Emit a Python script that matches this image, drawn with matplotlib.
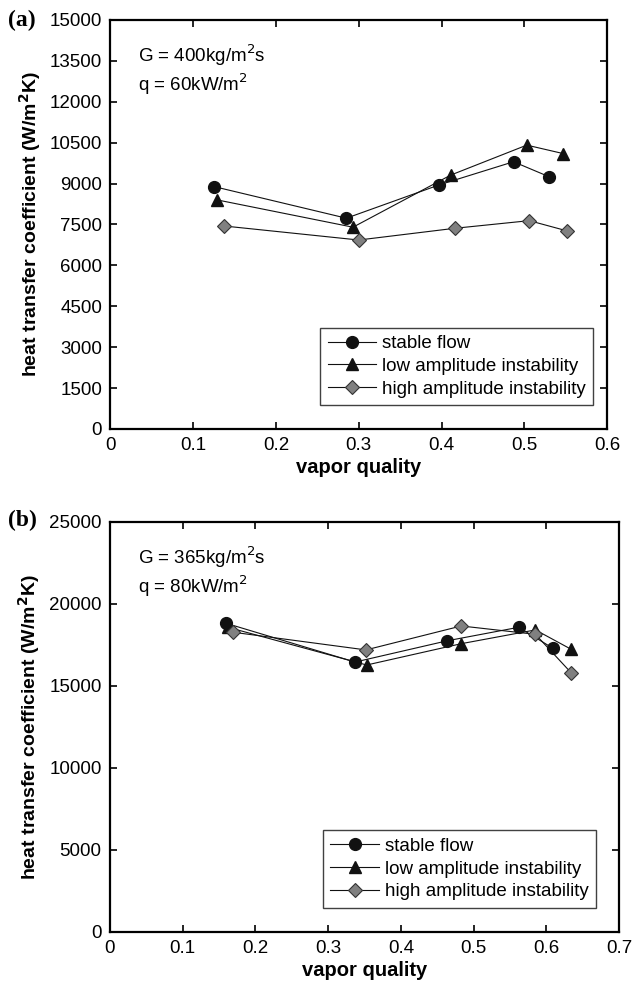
import matplotlib
matplotlib.use('Agg')
import matplotlib.pyplot as plt

plt.rcParams['font.family'] = ['Liberation Sans', 'DejaVu Sans']

# panel (a): G = 400 kg/m2s, q = 60 kW/m2
a_stable_x = [0.125, 0.285, 0.397, 0.487, 0.530]
a_stable_y = [8890, 7730, 8950, 9800, 9250]
a_low_x = [0.129, 0.293, 0.411, 0.503, 0.547]
a_low_y = [8400, 7400, 9310, 10410, 10100]
a_high_x = [0.137, 0.300, 0.416, 0.506, 0.551]
a_high_y = [7445, 6930, 7360, 7640, 7270]

# panel (b): G = 365 kg/m2s, q = 80 kW/m2
b_stable_x = [0.160, 0.337, 0.464, 0.562, 0.609]
b_stable_y = [18800, 16440, 17740, 18560, 17280]
b_low_x = [0.163, 0.353, 0.483, 0.585, 0.634]
b_low_y = [18550, 16260, 17560, 18400, 17220]
b_high_x = [0.169, 0.352, 0.483, 0.585, 0.634]
b_high_y = [18260, 17180, 18640, 18130, 15790]

a_yticks = [0, 1500, 3000, 4500, 6000, 7500, 9000, 10500, 12000, 13500, 15000]
b_yticks = [0, 5000, 10000, 15000, 20000, 25000]
a_xticks = [0, 0.1, 0.2, 0.3, 0.4, 0.5, 0.6]
b_xticks = [0, 0.1, 0.2, 0.3, 0.4, 0.5, 0.6, 0.7]

labels = ['stable flow', 'low amplitude instability', 'high amplitude instability']


def draw_panel(ax, series, xlim, xticks, ylim, yticks, note, legend_pos):
    styles = [dict(marker='o', mfc='#111111', mec='#111111', ms=8.5),
              dict(marker='^', mfc='#111111', mec='#111111', ms=9),
              dict(marker='D', mfc='#808080', mec='#333333', ms=7, mew=0.8)]
    for (xs, ys), st, lab in zip(series, styles, labels):
        ax.plot(xs, ys, color='#111111', lw=0.8, label=lab, **st)
    ax.set_xlim(*xlim)
    ax.set_ylim(*ylim)
    ax.set_xticks(xticks)
    ax.set_xticklabels([('%g' % t) for t in xticks])
    ax.set_yticks(yticks)
    ax.tick_params(direction='in', top=True, right=True, length=5, width=1.2,
                   labelsize=13.5, pad=6)
    for sp in ax.spines.values():
        sp.set_linewidth(1.6)
    ax.set_xlabel('vapor quality', fontsize=14.5, fontweight='bold', labelpad=3)
    ax.set_ylabel('heat transfer coefficient (W/m$^\\mathbf{2}$K)', fontsize=14,
                  fontweight='bold', labelpad=5)
    ax.text(0.055, 0.945, note, transform=ax.transAxes, fontsize=13.5, va='top',
            linespacing=1.2)
    leg = ax.legend(loc='lower left', bbox_to_anchor=legend_pos, fontsize=13.5,
                    frameon=True, fancybox=False, edgecolor='#111111',
                    borderpad=0.4, labelspacing=0.3, handlelength=2.6,
                    handletextpad=0.3, borderaxespad=0)
    leg.get_frame().set_linewidth(1.0)


fig = plt.figure(figsize=(6.35, 9.88), dpi=100)
ax1 = fig.add_axes([0.174, 0.5658, 0.782, 0.414])
ax2 = fig.add_axes([0.173, 0.057, 0.802, 0.415])

draw_panel(ax1, [(a_stable_x, a_stable_y), (a_low_x, a_low_y), (a_high_x, a_high_y)],
           (0, 0.6), a_xticks, (0, 15000), a_yticks,
           'G = 400kg/m$^2$s\nq = 60kW/m$^2$', (0.422, 0.058))
draw_panel(ax2, [(b_stable_x, b_stable_y), (b_low_x, b_low_y), (b_high_x, b_high_y)],
           (0, 0.7), b_xticks, (0, 25000), b_yticks,
           'G = 365kg/m$^2$s\nq = 80kW/m$^2$', (0.418, 0.058))

fig.text(0.012, 0.979, '(a)', fontsize=17, fontweight='bold', family='Liberation Serif',
         va='center')
fig.text(0.012, 0.473, '(b)', fontsize=17, fontweight='bold', family='Liberation Serif',
         va='center')

fig.savefig('out.png', dpi=100)
